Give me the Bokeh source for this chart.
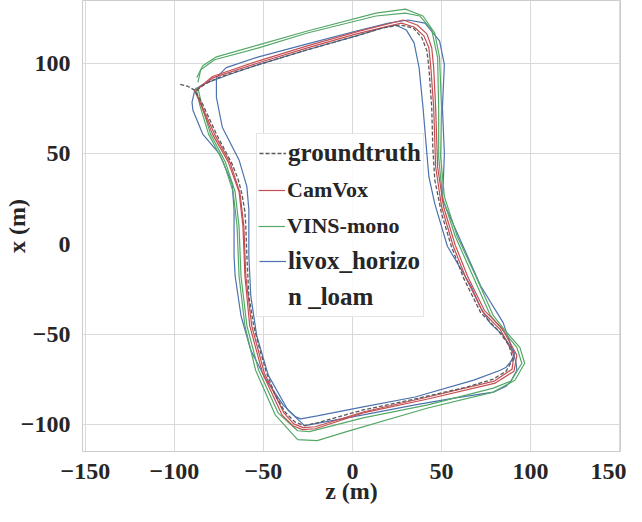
from bokeh.plotting import figure
from bokeh.models import FixedTicker, Legend, LegendItem, Range1d
from bokeh.embed import file_html
from bokeh.resources import INLINE

# ---------------- data (z, x in metres) ----------------
gt_z = [-96.7, -92.3, -88.5, -84.1, -80.2, -76.4, -72.0, -67.6, -64.3, -62.1, -60.4, -59.9, -59.3, -58.2,
        -55.5, -52.7, -48.4, -43.4, -37.9, -32.4, -26.9, -19.8, 6.0, 35.2, 64.3, 79.1, 86.3, 90.1, 87.9,
        81.9, 72.0, 62.6, 55.5, 50.0, 46.2, 45.1, 44.5, 42.9, 41.8, 39.0, 34.1, 26.9, 17.0, 2.2, -25.3,
        -52.7, -72.0, -80.2, -85.7, -87.9]
gt_x = [88.5, 87.4, 85.2, 77.5, 69.2, 61.0, 52.7, 44.5, 36.3, 28.0, 18.1, 9.9, -6.6, -28.6,
        -45.1, -56.0, -70.9, -83.5, -92.9, -98.4, -100.5, -98.9, -91.8, -85.7, -79.1, -74.7, -70.3, -63.7, -56.0,
        -47.8, -37.9, -19.2, -1.1, 17.0, 35.7, 53.8, 75.8, 97.8, 107.1, 114.3, 119.8, 121.4, 119.8, 115.4, 107.7,
        99.5, 93.4, 90.1, 86.8, 84.1]

camvox_a_z = [-89.0, -85.7, -78.6, -69.8, -63.7, -61.5, -60.4, -57.7, -50.5, -39.6, -33.5, -28.0, -20.9, 6.0,
              42.3, 80.2, 90.7, 92.3, 84.1, 74.2, 64.8, 57.7, 51.1, 47.8, 46.7, 45.6, 44.5, 41.8, 36.3, 28.6,
              2.2, -25.3, -52.7, -78.6, -87.9]
camvox_a_x = [85.7, 78.6, 61.0, 45.6, 29.1, 9.9, -17.6, -45.1, -71.4, -94.5, -100.5, -102.7, -102.2, -93.4,
              -85.7, -76.9, -70.3, -61.5, -46.7, -36.8, -18.1, -0.5, 20.9, 42.9, 75.8, 97.8, 108.8, 116.5, 121.4,
              124.2, 117.6, 109.9, 101.6, 92.9, 85.2]
camvox_b_z = [-88.5, -85.2, -77.5, -68.7, -63.2, -61.0, -59.9, -56.6, -49.5, -38.5, -33.0, -27.5, -20.9, 6.0,
              42.3, 79.7, 89.6, 90.7, 83.0, 73.1, 63.7, 56.6, 50.0, 46.7, 45.6, 44.0, 42.9, 40.1, 34.6, 27.5,
              2.2, -25.3, -52.7, -78.0, -87.4]
camvox_b_x = [85.2, 78.0, 61.0, 45.1, 28.6, 9.9, -17.6, -45.1, -71.4, -93.4, -99.5, -101.6, -101.1, -92.9,
              -84.6, -75.8, -69.2, -61.5, -47.3, -37.4, -18.7, -1.1, 20.9, 42.9, 75.8, 97.8, 108.8, 115.4, 120.3,
              122.5, 116.5, 108.8, 100.5, 92.3, 85.7]

vins_a_z = [-87.9, -85.7, -80.8, -72.5, -67.0, -64.8, -63.7, -60.4, -54.4, -43.4, -30.8, -19.8, -3.3, 42.3,
            79.1, 91.2, 96.7, 94.0, 85.7, 79.1, 69.2, 58.8, 51.6, 49.5, 50.0, 48.9, 46.2, 39.6, 29.7, 13.2,
            -25.3, -52.7, -76.4, -84.1, -87.4]
vins_a_x = [86.8, 76.9, 61.0, 45.6, 29.1, 9.9, -17.6, -45.1, -69.8, -94.5, -108.2, -108.8, -103.8, -90.7,
            -81.9, -75.3, -65.9, -57.1, -47.8, -39.6, -17.6, 4.4, 26.4, 48.4, 75.8, 103.3, 117.0, 126.4, 130.2,
            128.0, 118.1, 110.4, 103.8, 98.9, 92.3]
vins_b_z = [-86.8, -84.6, -79.7, -71.4, -65.9, -63.7, -62.6, -59.3, -52.7, -41.8, -30.8, -24.2, 6.0, 42.3,
            79.1, 89.0, 95.1, 92.3, 84.6, 77.5, 67.6, 57.7, 50.5, 48.4, 48.4, 47.8, 44.5, 37.9, 29.7, 13.2,
            -25.3, -52.7, -77.5, -85.2, -86.8]
vins_b_x = [86.8, 76.9, 61.0, 45.6, 29.1, 9.9, -17.6, -45.1, -69.8, -93.4, -103.3, -103.8, -96.2, -89.0,
            -79.7, -75.8, -65.9, -57.1, -47.8, -39.6, -17.6, 4.4, 26.4, 48.4, 75.8, 103.3, 118.7, 126.4, 128.0,
            126.4, 117.0, 108.8, 102.2, 96.7, 89.6]

livox_a_z = [-88.5, -90.1, -89.6, -84.1, -74.7, -70.9, -67.6, -66.5, -66.5, -65.9, -62.6, -57.1, -48.4, -39.0,
             -31.9, -29.1, -19.8, 6.0, 35.2, 68.1, 83.0, 86.3, 89.0, 91.2, 84.6, 77.5, 72.0, 66.5, 53.3, 46.2,
             42.9, 41.8, 39.6, 37.4, 34.6, 30.2, 24.2, 18.7, 2.2, -25.3, -52.7, -69.2, -84.1, -88.5]
livox_a_x = [85.7, 78.6, 74.2, 61.0, 50.0, 41.2, 33.5, 19.2, -6.6, -17.6, -39.6, -58.8, -75.3, -89.0,
             -95.6, -96.7, -95.1, -90.1, -84.6, -75.3, -69.8, -68.1, -64.8, -60.4, -50.5, -44.0, -35.2, -23.1,
             -1.1, 22.5, 37.4, 50.0, 75.8, 97.8, 111.5, 118.7, 121.4, 120.3, 115.4, 107.7, 99.5, 94.0, 88.5, 85.7]
livox_b_z = [-76.4, -76.4, -73.1, -63.7, -59.3, -58.2, -58.2, -57.1, -53.8, -47.3, -36.3, -26.9, 6.0, 35.2,
             57.1, 79.1, 86.3, 89.0, 92.3, 91.8, 89.0, 84.6, 72.0, 62.1, 50.5, 51.1, 51.6, 50.5, 51.6, 48.9,
             40.7, 31.3, 20.3, 2.2, -25.3, -52.7, -70.9, -76.4]
livox_b_x = [92.3, 81.3, 64.8, 46.7, 31.9, 19.2, -6.6, -28.6, -50.5, -72.5, -91.8, -100.5, -94.5, -89.0,
             -85.2, -81.9, -78.6, -75.8, -69.8, -65.4, -56.0, -43.4, -23.1, -1.1, 24.7, 37.4, 50.0, 75.8, 99.5,
             112.6, 122.5, 124.2, 122.5, 118.1, 111.0, 103.8, 97.8, 92.3]

x_ticks = [-150, -100, -50, 0, 50, 100, 150]
y_ticks = [-100, -50, 0, 50, 100]
y_grid = [-100, -50, 50, 100]
tick_text = {-150: "\u2212150", -100: "\u2212100", -50: "\u221250"}

C_GT = "#5a5a5a"
C_RED = "#c44e52"
C_GREEN = "#55a868"
C_BLUE = "#4c72b0"
FONT = "Liberation Serif"

p = figure(width=626, height=506, output_backend="svg", toolbar_location=None,
           x_range=Range1d(-151.6, 150.5), y_range=Range1d(-114.8, 135.0),
           min_border_left=72, min_border_right=6, min_border_top=0, min_border_bottom=40)
p.background_fill_color = "white"
p.border_fill_color = "white"
p.outline_line_color = "#cccccc"
p.outline_line_width = 1

p.xaxis.ticker = FixedTicker(ticks=x_ticks)
p.yaxis.ticker = FixedTicker(ticks=y_ticks)
p.xgrid.ticker = FixedTicker(ticks=x_ticks)
p.ygrid.ticker = FixedTicker(ticks=y_grid)
p.xaxis.major_label_overrides = tick_text
p.yaxis.major_label_overrides = tick_text
for g in (p.xgrid, p.ygrid):
    g.grid_line_color = "#d9d9d9"
    g.grid_line_width = 1
for ax in (p.xaxis, p.yaxis):
    ax.axis_line_color = None
    ax.major_tick_line_color = None
    ax.minor_tick_line_color = None
    ax.major_tick_out = 0
    ax.major_tick_in = 0
    ax.minor_tick_out = 0
    ax.minor_tick_in = 0
    ax.major_label_text_font = FONT
    ax.major_label_text_font_style = "bold"
    ax.major_label_text_font_size = "24px"
    ax.major_label_text_color = "#262626"
    ax.axis_label_text_font = FONT
    ax.axis_label_text_font_style = "bold"
    ax.axis_label_text_font_size = "24px"
    ax.axis_label_text_color = "#262626"
p.xaxis.axis_label = "z (m)"
p.yaxis.axis_label = "x (m)"
p.xaxis.major_label_standoff = 12
p.xaxis.axis_label_standoff = -4
p.yaxis.major_label_standoff = 12
p.yaxis.axis_label_standoff = -12

LW = 1.2
r_b1 = p.line(livox_a_z, livox_a_x, line_color=C_BLUE, line_width=LW)
r_b2 = p.line(livox_b_z, livox_b_x, line_color=C_BLUE, line_width=LW)
r_g1 = p.line(vins_a_z, vins_a_x, line_color=C_GREEN, line_width=LW)
r_g2 = p.line(vins_b_z, vins_b_x, line_color=C_GREEN, line_width=LW)
r_r1 = p.line(camvox_a_z, camvox_a_x, line_color=C_RED, line_width=LW)
r_r2 = p.line(camvox_b_z, camvox_b_x, line_color=C_RED, line_width=LW)
r_gt = p.line(gt_z, gt_x, line_color=C_GT, line_width=1.3, line_dash="4 2")
r_blank = p.line(x=[], y=[], line_alpha=0)

legA = Legend(items=[
    LegendItem(label="groundtruth", renderers=[r_gt]),
    LegendItem(label=" ", renderers=[r_blank]),
    LegendItem(label=" ", renderers=[r_blank]),
    LegendItem(label="livox_horizo", renderers=[r_b1]),
    LegendItem(label="n _loam", renderers=[r_blank]),
], location=(174, 134))
legB = Legend(items=[
    LegendItem(label="CamVox", renderers=[r_r1]),
    LegendItem(label="VINS-mono", renderers=[r_g1]),
], location=(176, 208))
for lg, fs in ((legA, "25px"), (legB, "22px")):
    lg.label_text_font = FONT
    lg.label_text_font_style = "bold"
    lg.label_text_font_size = fs
    lg.label_text_color = "#262626"
    lg.glyph_width = 27
    lg.glyph_height = 20
    lg.label_height = 34
    lg.label_standoff = 2
    lg.spacing = 2
    lg.margin = 0
legA.padding = 2
legA.border_line_color = "#cccccc"
legA.border_line_width = 1
legA.background_fill_color = "white"
legA.background_fill_alpha = 0.85
legB.padding = 0
legB.border_line_color = None
legB.background_fill_alpha = 0
p.add_layout(legA)
p.add_layout(legB)

open("out.html", "w").write(file_html(p, INLINE))
